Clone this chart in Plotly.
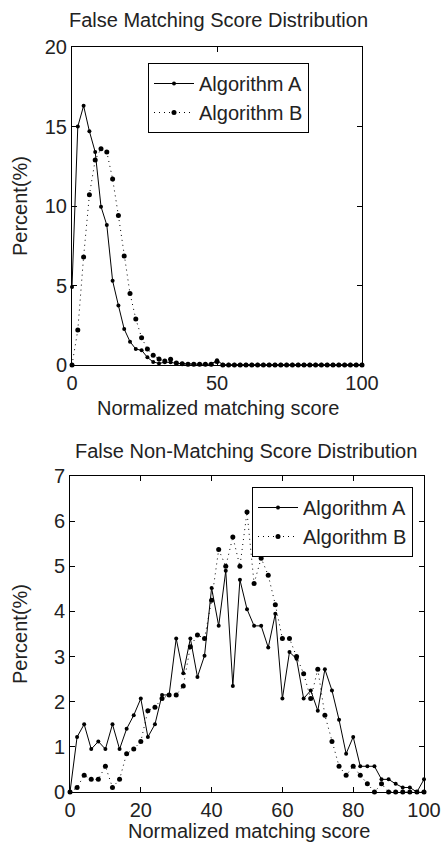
import plotly.graph_objects as go

# ---------------- data ----------------
scores = [0, 2, 4, 6, 8, 10, 12, 14, 16, 18, 20, 22, 24, 26, 28, 30, 32, 34, 36, 38,
          40, 42, 44, 46, 48, 50, 52, 54, 56, 58, 60, 62, 64, 66, 68, 70, 72, 74, 76, 78,
          80, 82, 84, 86, 88, 90, 92, 94, 96, 98, 100]

fm_alg_a = [4.9, 15.0, 16.3, 14.7, 13.4, 9.96, 8.8, 5.3, 3.75, 2.26,
            1.47, 1.0, 0.93, 0.48, 0.19, 0.1, 0.17, 0.17, 0.1, 0.08,
            0.05, 0.05, 0.05, 0.05, 0.05, 0.3, 0.02, 0.02, 0.02, 0.02,
            0.02, 0.02, 0.02, 0.02, 0.02, 0.02, 0.02, 0.02, 0.02, 0.02,
            0.02, 0.02, 0.02, 0.02, 0.02, 0.02, 0.02, 0.02, 0.02, 0.02, 0.02]
fm_alg_b = [0.0, 2.2, 6.8, 10.7, 12.9, 13.6, 13.4, 11.7, 9.4, 6.85,
            4.5, 2.9, 1.72, 1.0, 0.62, 0.37, 0.25, 0.36, 0.12, 0.08,
            0.05, 0.05, 0.05, 0.05, 0.05, 0.22, 0.0, 0.0, 0.0, 0.0,
            0.0, 0.0, 0.0, 0.0, 0.0, 0.0, 0.0, 0.0, 0.0, 0.0,
            0.0, 0.0, 0.0, 0.0, 0.0, 0.0, 0.0, 0.0, 0.0, 0.0, 0.0]

fnm_alg_a = [0, 1.22, 1.5, 0.95, 1.12, 0.95, 1.5, 0.95, 1.4, 1.7,
             2.07, 1.22, 1.5, 2.15, 2.15, 3.4, 2.63, 3.4, 2.55, 3.02,
             4.52, 3.68, 4.9, 2.35, 4.7, 4.05, 3.68, 3.68, 3.2, 3.95,
             2.07, 3.1, 2.95, 2.07, 2.25, 1.8, 2.72, 2.25, 1.6, 0.85,
             1.22, 0.57, 0.57, 0.57, 0.28, 0.28, 0.18, 0.1, 0.1, 0.0, 0.28]
fnm_alg_b = [0, 0.1, 0.37, 0.28, 0.28, 0.57, 0.1, 0.28, 0.85, 0.95,
             1.12, 1.8, 1.88, 2.07, 2.15, 2.15, 2.35, 3.22, 3.48, 3.4,
             4.25, 5.37, 5.0, 5.65, 5.0, 6.2, 4.62, 5.18, 4.8, 4.15,
             3.4, 3.4, 3.0, 2.62, 2.07, 2.72, 1.7, 1.12, 0.57, 0.37,
             0.57, 0.37, 0.18, 0.0, 0.18, 0.0, 0.0, 0.0, 0.0, 0.0, 0.0]

top_x_ticks = [0, 50, 100]
top_y_ticks = [0, 5, 10, 15, 20]
bot_x_ticks = [0, 20, 40, 60, 80, 100]
bot_y_ticks = [0, 1, 2, 3, 4, 5, 6, 7]

title_top = "False Matching Score Distribution"
title_bot = "False Non-Matching Score Distribution"
x_label = "Normalized matching score"
y_label = "Percent(%)"
names = ["Algorithm A", "Algorithm B"]

# ---------------- figure ----------------
W, H = 441, 842
FONT = "Liberation Sans, Arial, sans-serif"
TXT = "#222222"

fig = go.Figure()

def add_pair(ya, yb, xa, yax, legend):
    fig.add_trace(go.Scatter(x=scores, y=ya, name=names[0], mode="lines+markers",
                             line=dict(color="black", width=1, dash="solid"),
                             marker=dict(color="black", size=4),
                             xaxis=xa, yaxis=yax, legend=legend, cliponaxis=False))
    fig.add_trace(go.Scatter(x=scores, y=yb, name=names[1], mode="lines+markers",
                             line=dict(color="black", width=1, dash="1px,4px"),
                             marker=dict(color="black", size=5),
                             xaxis=xa, yaxis=yax, legend=legend, cliponaxis=False))

add_pair(fm_alg_a, fm_alg_b, "x", "y", "legend")
add_pair(fnm_alg_a, fnm_alg_b, "x2", "y2", "legend2")

axis_common = dict(showline=True, linecolor="black", linewidth=1, mirror="ticks",
                   ticks="inside", ticklen=5, tickcolor="black", tickwidth=1,
                   showgrid=False, zeroline=False, automargin=False,
                   tickfont=dict(family=FONT, size=20, color=TXT))

def px_x(p):
    return p / W

def px_y(p):
    return 1 - p / H

legend_common = dict(xanchor="left", yanchor="top",
                     bordercolor="black", borderwidth=1, bgcolor="white",
                     font=dict(family=FONT, size=20, color=TXT),
                     tracegroupgap=0, itemwidth=40)

fig.update_layout(
    width=W, height=H, autosize=False,
    margin=dict(l=0, r=0, t=0, b=0, autoexpand=False),
    paper_bgcolor="white", plot_bgcolor="white",
    font=dict(family=FONT, size=20, color=TXT),
    xaxis=dict(domain=[px_x(72), px_x(362)], range=[0, 100], tickvals=top_x_ticks,
               anchor="y", **axis_common),
    yaxis=dict(domain=[px_y(365), px_y(47)], range=[0, 20], tickvals=top_y_ticks,
               anchor="x", **axis_common),
    xaxis2=dict(domain=[px_x(70), px_x(424)], range=[0, 100], tickvals=bot_x_ticks,
                anchor="y2", **axis_common),
    yaxis2=dict(domain=[px_y(792), px_y(476)], range=[0, 7], tickvals=bot_y_ticks,
                anchor="x2", **axis_common),
    legend=dict(x=px_x(148), y=px_y(63), **legend_common),
    legend2=dict(x=px_x(252), y=px_y(487), **legend_common),
    showlegend=True,
)

def ann(text, x, y, angle=0):
    fig.add_annotation(text=text, x=px_x(x), y=px_y(y), xref="paper", yref="paper",
                       showarrow=False, xanchor="center", yanchor="middle",
                       textangle=angle, font=dict(family=FONT, size=20, color=TXT))

ann(title_top, 218, 20)
ann(x_label, 218, 408)
ann(y_label, 20, 206, -90)
ann(title_bot, 246, 451)
ann(x_label, 249, 831)
ann(y_label, 20, 634, -90)

fig.write_html("out.html",
               config={"displayModeBar": False},
               post_script="document.body.style.margin='0';"
                           "document.body.style.overflow='hidden';")
